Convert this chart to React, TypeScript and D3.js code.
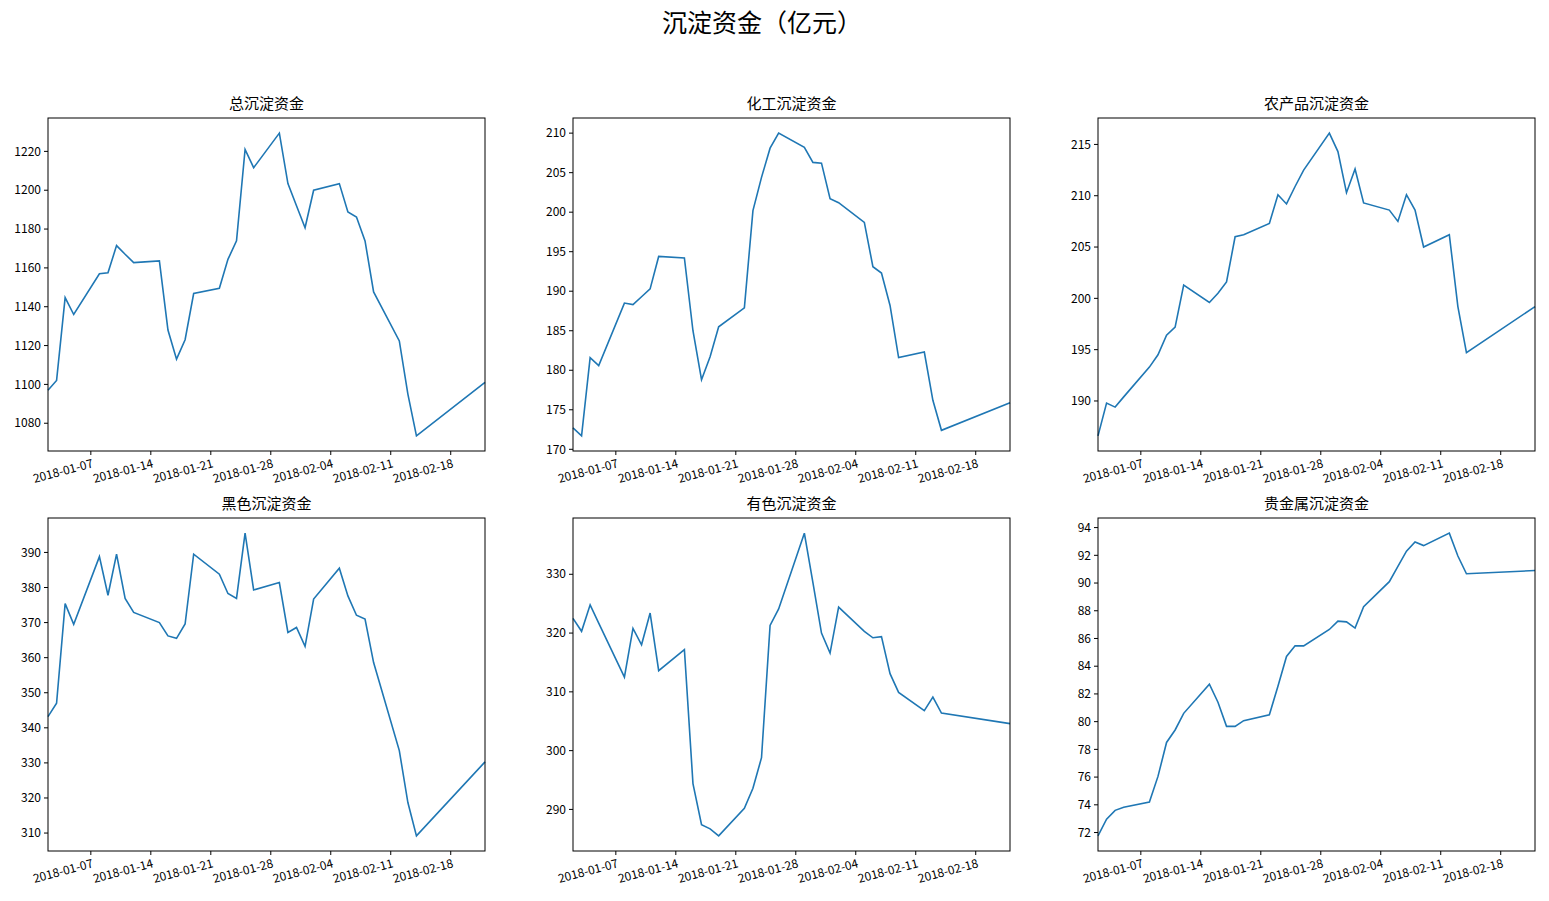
import React from "react";
import * as d3 from "d3";

const dates = ["2018-01-02","2018-01-03","2018-01-04","2018-01-05","2018-01-08","2018-01-09","2018-01-10","2018-01-11","2018-01-12","2018-01-15","2018-01-16","2018-01-17","2018-01-18","2018-01-19","2018-01-22","2018-01-23","2018-01-24","2018-01-25","2018-01-26","2018-01-29","2018-01-30","2018-01-31","2018-02-01","2018-02-02","2018-02-05","2018-02-06","2018-02-07","2018-02-08","2018-02-09","2018-02-12","2018-02-13","2018-02-14","2018-02-22"];

const total = [1097,1102,1144.7,1136,1157,1157.5,1171.5,1167,1162.7,1163.6,1128,1113,1123,1146.8,1149.5,1164.4,1173.9,1221,1211.6,1229.4,1203.4,1192,1180.7,1200,1203.4,1188.8,1186.2,1173.9,1147.6,1122.4,1095,1073.5,1101];
const chem = [172.7,171.7,181.6,180.6,188.5,188.3,189.3,190.3,194.4,194.2,185,178.8,181.7,185.5,187.9,200.2,204.4,208.1,210,208.2,206.3,206.2,201.7,201.2,198.7,193.1,192.3,188.2,181.6,182.3,176.2,172.4,175.9];
const agri = [186.6,189.8,189.4,190.4,193.3,194.5,196.4,197.2,201.3,199.6,200.5,201.6,206,206.2,207.3,210.1,209.2,210.9,212.5,216.1,214.3,210.3,212.6,209.3,208.6,207.5,210.1,208.6,205,206.2,199.2,194.7,199.2];
const black = [343.2,347,375.4,369.5,388.8,377.8,389.5,376.9,372.9,370,366.2,365.5,369.6,389.5,383.8,378.3,376.9,395.5,379.3,381.4,367.2,368.6,363.2,376.7,385.5,377.6,372.1,371,358.6,333.5,318.7,309.2,330.3];
const nonferrous = [322.5,320.3,324.8,321.7,312.5,320.8,318,323.4,313.6,317.2,294.4,287.4,286.7,285.5,290.2,293.6,298.8,321.3,324.1,337,328.6,320,316.6,324.4,320.3,319.2,319.4,313.1,309.9,306.8,309.1,306.4,304.6];
const precious = [71.76,72.96,73.6,73.83,74.2,76.05,78.5,79.4,80.6,82.7,81.4,79.66,79.66,80.07,80.5,82.55,84.7,85.47,85.47,86.65,87.25,87.2,86.75,88.3,90.1,91.2,92.3,92.96,92.7,93.6,91.95,90.67,90.9];

const titles = ["总沉淀资金","化工沉淀资金","农产品沉淀资金","黑色沉淀资金","有色沉淀资金","贵金属沉淀资金"];
const seriesList = [total, chem, agri, black, nonferrous, precious];
const xTickLabels = ["2018-01-07","2018-01-14","2018-01-21","2018-01-28","2018-02-04","2018-02-11","2018-02-18"];

const font = "'Noto Sans CJK SC', 'DejaVu Sans', sans-serif";
const parse = d3.timeParse("%Y-%m-%d");

function Panel({ x0, y0, w, h, title, values }: any) {
  const ds = dates.map((d) => parse(d) as Date);
  const x = d3.scaleTime().domain(d3.extent(ds) as [Date, Date]).range([0, w]);
  const [mn, mx] = d3.extent(values) as [number, number];
  const pad = (mx - mn) * 0.05;
  const y = d3.scaleLinear().domain([mn - pad, mx + pad]).range([h, 0]);
  const yt = y.ticks(8);
  const line = d3.line<number>().x((_, i) => x(ds[i])).y((v) => y(v));
  return (
    <g transform={`translate(${x0},${y0})`}>
      <path d={line(values) || ""} fill="none" stroke="#1f77b4" strokeWidth={1.6} />
      <rect x={0} y={0} width={w} height={h} fill="none" stroke="#000" strokeWidth={1} />
      {yt.map((t) => (
        <g key={t} transform={`translate(0,${y(t)})`}>
          <line x1={-4} x2={0} stroke="#000" />
          <text x={-7} dy="0.35em" textAnchor="end" fontSize={12} fontFamily={font}>{t}</text>
        </g>
      ))}
      {xTickLabels.map((t) => {
        const px = x(parse(t) as Date);
        return (
          <g key={t} transform={`translate(${px},${h})`}>
            <line y1={0} y2={4} stroke="#000" />
            <text transform="translate(2,12) rotate(-15)" textAnchor="end" dy="0.35em" fontSize={12} fontFamily={font}>{t}</text>
          </g>
        );
      })}
      <text x={w / 2} y={-9} textAnchor="middle" fontSize={15} fontFamily={font}>{title}</text>
    </g>
  );
}

export default function App() {
  const xs = [48, 573, 1098];
  const ys = [118, 518];
  const w = 437, h = 333;
  return (
    <svg width={1549} height={901} style={{ display: "block", position: "absolute", left: 0, top: 0 }}>
      <rect width={1549} height={901} fill="#fff" />
      <text x={762} y={32} textAnchor="middle" fontSize={25} fontFamily={font}>沉淀资金（亿元）</text>
      {seriesList.map((s, i) => (
        <Panel key={i} x0={xs[i % 3]} y0={ys[Math.floor(i / 3)]} w={w} h={h} title={titles[i]} values={s} />
      ))}
    </svg>
  );
}
